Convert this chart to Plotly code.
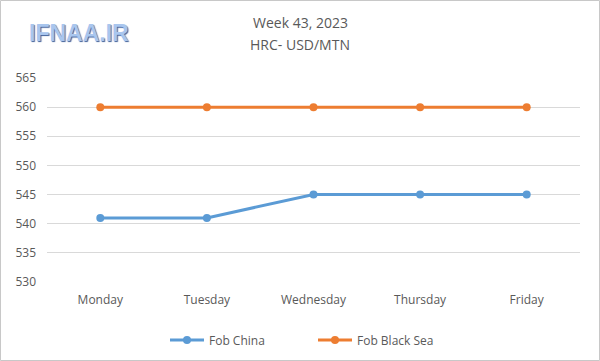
import plotly.graph_objects as go

days = ["Monday", "Tuesday", "Wednesday", "Thursday", "Friday"]
fob_china = [541, 541, 545, 545, 545]
fob_black_sea = [560, 560, 560, 560, 560]

W, H = 600, 361
L, R, T, B = 47, 20, 78, 79
pw, ph = W - L - R, H - T - B

def px(x):
    return (x - L) / pw

def py(y):
    return (H - B - y) / ph

fig = go.Figure()
fig.add_trace(go.Scatter(x=days, y=fob_china, name="Fob China", mode="lines+markers",
                         line=dict(color="#5b9bd5", width=3), marker=dict(size=8, color="#5b9bd5")))
fig.add_trace(go.Scatter(x=days, y=fob_black_sea, name="Fob Black Sea", mode="lines+markers",
                         line=dict(color="#ed7d31", width=3), marker=dict(size=8, color="#ed7d31")))

fig.update_layout(
    width=W, height=H,
    paper_bgcolor="white", plot_bgcolor="white",
    margin=dict(l=L, r=R, t=T, b=B, autoexpand=False),
    font=dict(family="Open Sans, DejaVu Sans, sans-serif", color="#595959", size=12),
    showlegend=True,
    legend=dict(orientation="h", x=px(165), xanchor="left", y=py(340), yanchor="middle",
                font=dict(size=12, color="#595959"), itemwidth=34, tracegroupgap=0,
                entrywidth=99, entrywidthmode="pixels",
                bgcolor="rgba(0,0,0,0)"),
    xaxis=dict(showgrid=False, showline=False, zeroline=False, ticks="",
               range=[-0.5, 4.5], tickfont=dict(size=12, color="#595959"),
               ticklabelstandoff=9),
    yaxis=dict(range=[530, 565], dtick=5, showgrid=True, gridcolor="#d9d9d9", gridwidth=1,
               zeroline=False, showline=False, tickfont=dict(size=12, color="#595959"),
               ticklabelstandoff=10),
    annotations=[
        dict(text="Week 43, 2023", x=px(300), y=py(22), xref="paper", yref="paper",
             xanchor="center", yanchor="middle", showarrow=False,
             font=dict(size=14, color="#595959")),
        dict(text="HRC- USD/MTN", x=px(300), y=py(45), xref="paper", yref="paper",
             xanchor="center", yanchor="middle", showarrow=False,
             font=dict(size=14, color="#595959")),
        dict(text="<b>IFNAA.IR</b>", x=px(79), y=py(33), xref="paper", yref="paper",
             xanchor="center", yanchor="middle", showarrow=False,
             font=dict(size=23, color="#a9c6ee", family="Arial, Liberation Sans, sans-serif",
                       shadow="1px 1px 1px #3f5f99")),
    ],
    shapes=[dict(type="rect", xref="paper", yref="paper", x0=px(0.5), x1=px(W - 0.5),
                 y0=py(H - 0.5), y1=py(0.5), line=dict(color="#c8c8c8", width=1))],
)

fig.write_html("out.html", config={"displayModeBar": False},
               post_script="document.body.style.margin='0';document.body.style.padding='0';")
